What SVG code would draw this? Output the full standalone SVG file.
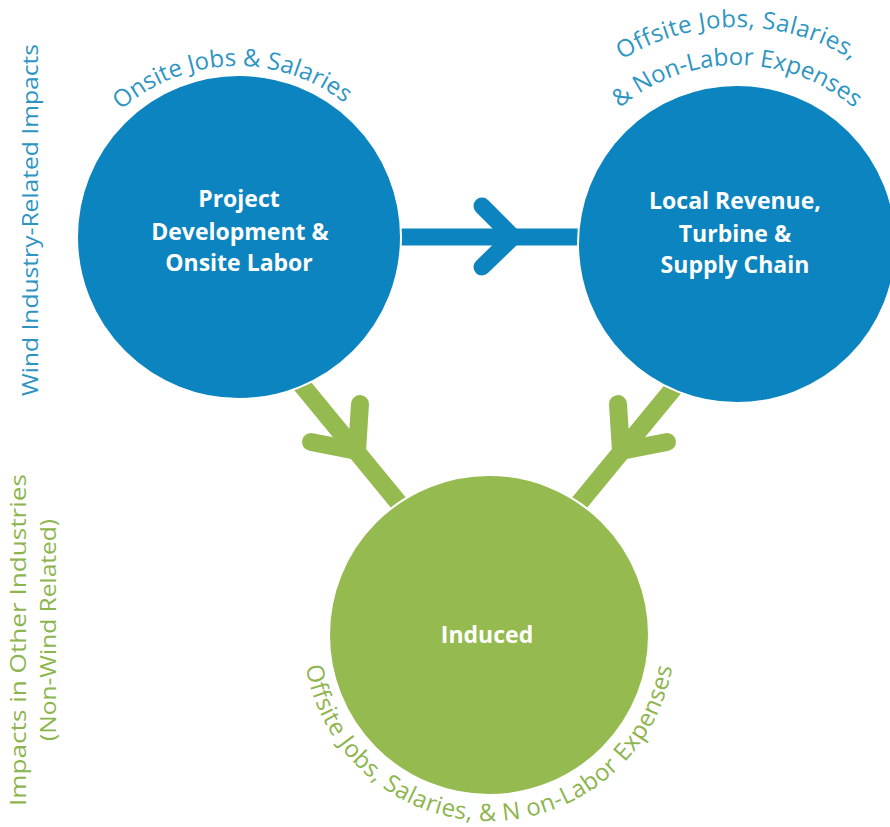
<svg xmlns="http://www.w3.org/2000/svg" width="890" height="827" viewBox="0 0 890 827">
  <style>
    .node-blue { fill: #0b84bf; stroke: #ffffff; stroke-width: 2; }
    .node-green { fill: #95bb50; stroke: #ffffff; stroke-width: 2; }
    .node-label { font-family: "Open Sans", "Noto Sans", sans-serif; font-weight: 700; font-size: 23px; fill: #ffffff; text-anchor: middle; }
    .arc-blue { font-family: "Open Sans", "Noto Sans", sans-serif; font-size: 24px; fill: #2e95c3; }
    .arc-green { font-family: "Open Sans", "Noto Sans", sans-serif; font-size: 24px; fill: #8db54e; }
    .side { font-family: "Open Sans", "Noto Sans", sans-serif; font-size: 22px; text-anchor: middle; }
    .link-blue { fill: none; stroke: #0b84bf; stroke-width: 17; stroke-linecap: round; stroke-linejoin: round; }
    .link-green { fill: none; stroke: #95bb50; stroke-width: 18; stroke-linecap: round; stroke-linejoin: round; }
  </style>
  <defs>
    <!-- baselines for curved captions -->
    <path id="arc-onsite" d="M 63 240 A 174 174 0 0 1 411 240"/>
    <path id="arc-offsite-1" d="M 519 245 A 218 218 0 0 1 955 245"/>
    <path id="arc-offsite-2" d="M 557 245 A 180 180 0 0 1 917 245"/>
    <path id="arc-induced" d="M 303 635 A 186 186 0 0 0 675 635"/>
  </defs>

  <rect width="890" height="827" fill="#ffffff"/>

  <!-- side headings -->
  <g id="side-labels">
    <text class="side" fill="#2e95c3" transform="translate(38,220) rotate(-90)" textLength="352" lengthAdjust="spacingAndGlyphs">Wind Industry-Related Impacts</text>
    <text class="side" fill="#8db54e" transform="translate(26,640) rotate(-90)" textLength="332" lengthAdjust="spacingAndGlyphs">Impacts in Other Industries</text>
    <text class="side" fill="#8db54e" transform="translate(56,630) rotate(-90)" textLength="222" lengthAdjust="spacingAndGlyphs">(Non-Wind Related)</text>
  </g>

  <!-- connectors -->
  <g id="connectors">
    <g id="link-project-to-local">
      <path class="link-blue" d="M 395 237 L 580 237"/>
      <path class="link-blue" d="M 482 206 L 513 237 L 482 267"/>
    </g>
    <g id="link-project-to-induced">
      <path class="link-green" d="M 296 378 L 402 507"/>
      <path class="link-green" d="M 360 404 L 357 451 L 311 442"/>
    </g>
    <g id="link-local-to-induced">
      <path class="link-green" d="M 682 378 L 576 507"/>
      <path class="link-green" d="M 618 404 L 621 451 L 667 442"/>
    </g>
  </g>

  <!-- nodes -->
  <g id="node-project">
    <circle class="node-blue" cx="239" cy="237" r="162"/>
    <text class="node-label" x="239" y="207">Project</text>
    <text class="node-label" x="240" y="240">Development &amp;</text>
    <text class="node-label" x="239" y="271">Onsite Labor</text>
    <text class="arc-blue"><textPath href="#arc-onsite" startOffset="49%" text-anchor="middle">Onsite Jobs &amp; Salaries</textPath></text>
  </g>

  <g id="node-local">
    <circle class="node-blue" cx="737" cy="244" r="159"/>
    <text class="node-label" x="735" y="209">Local Revenue,</text>
    <text class="node-label" x="735" y="242">Turbine &amp;</text>
    <text class="node-label" x="735" y="273">Supply Chain</text>
    <text class="arc-blue" letter-spacing="0.4"><textPath href="#arc-offsite-1" startOffset="50%" text-anchor="middle">Offsite Jobs, Salaries,</textPath></text>
    <text class="arc-blue"><textPath href="#arc-offsite-2" startOffset="50%" text-anchor="middle">&amp; Non-Labor Expenses</textPath></text>
  </g>

  <g id="node-induced">
    <circle class="node-green" cx="489" cy="635" r="160"/>
    <text class="node-label" x="487" y="643">Induced</text>
    <text class="arc-green" letter-spacing="0.45"><textPath href="#arc-induced" startOffset="50%" text-anchor="middle">Offsite Jobs, Salaries, &amp; N on-Labor Expenses</textPath></text>
  </g>
</svg>
